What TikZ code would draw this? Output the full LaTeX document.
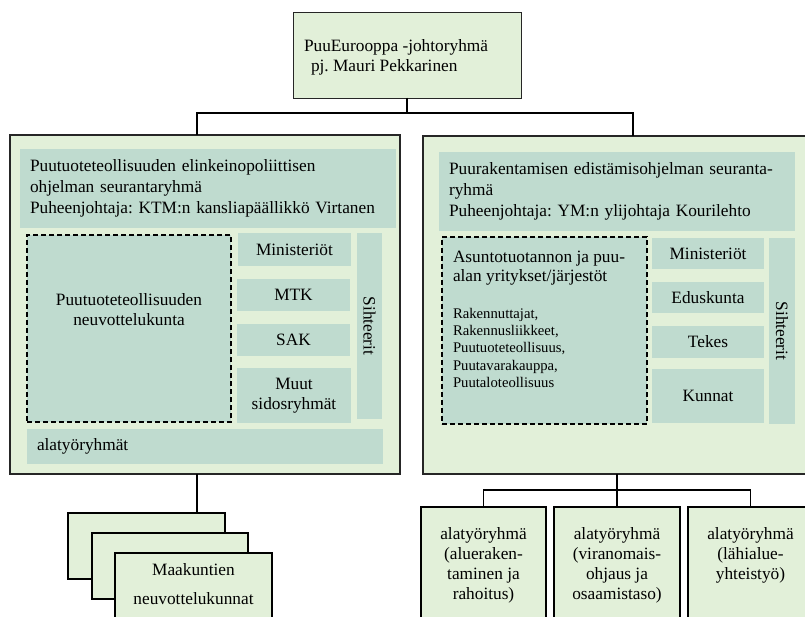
\documentclass[tikz,border=0pt]{standalone}
\usepackage{fontspec}
\setmainfont{Liberation Serif}
\frenchspacing
\definecolor{outerg}{RGB}{226,240,217}
\definecolor{innerg}{RGB}{191,219,207}
\begin{document}
\begin{tikzpicture}[x=1pt,y=-1pt,
  bigbox/.style={draw=black!85, line width=1.3pt, fill=outerg, anchor=north west, inner sep=0pt, outer sep=0pt},
  topbox/.style={draw=black!85, line width=0.9pt, fill=outerg, anchor=north west, inner sep=0pt, outer sep=0pt},
  thickbox/.style={draw=black, line width=2.3pt, fill=outerg, anchor=north west, inner sep=0pt, outer sep=0pt},
  ibox/.style={fill=innerg, anchor=north west, inner sep=0pt, outer sep=0pt, align=center, font=\fontsize{17.3}{20}\selectfont},
  hdr/.style={ibox, align=left, inner xsep=10pt, font=\fontsize{17.3}{21}\selectfont},
  dbox/.style={fill=innerg, draw=black, line width=1.2pt, dash pattern=on 5pt off 3pt, anchor=north west, inner sep=0pt, outer sep=0pt},
  txt/.style={inner sep=0pt, outer sep=0pt, font=\fontsize{17.3}{20}\selectfont},
  conn/.style={draw=black, line width=1.2pt}
]
\useasboundingbox (0,0) rectangle (805,617);
\clip (0,0) rectangle (805,617);

% top box
\node[topbox, minimum width=228pt, minimum height=86pt] (top) at (293,12) {};
\node[txt, anchor=north west, align=left] (toptext) at (304,40) {PuuEurooppa -johtoryhmä\\\hspace*{7pt}pj. Mauri Pekkarinen};

% big boxes
\node[bigbox, minimum width=390pt, minimum height=339pt] (bigL) at (10,135) {};
\node[bigbox, minimum width=392pt, minimum height=338pt] (bigR) at (423,136) {};

% left inner
\node[hdr, minimum width=376pt, minimum height=79pt, text width=356pt] (hdrL) at (20,149)
  {Puutuoteteollisuuden elinkeinopoliittisen\\ohjelman seurantaryhmä\\Puheenjohtaja: KTM:n kansliapäällikkö Virtanen};
\node[dbox, minimum width=204pt, minimum height=187pt] (dashL) at (27,235) {};
\node[txt, align=center] (dashLt) at (129,310) {Puutuoteteollisuuden\\neuvottelukunta};
\node[ibox, minimum width=113pt, minimum height=33pt] (minL) at (238,233) {Ministeriöt};
\node[ibox, minimum width=113pt, minimum height=32pt] (mtk) at (237,279) {MTK};
\node[ibox, minimum width=113pt, minimum height=32pt] (sak) at (237,324) {SAK};
\node[ibox, minimum width=114pt, minimum height=55pt] (muut) at (237,368) {Muut\\sidosryhmät};
\node[ibox, minimum width=25pt, minimum height=186pt] (sihL) at (357,233) {\rotatebox{-90}{Sihteerit}};
\node[ibox, align=left, inner xsep=10pt, text width=336pt, minimum width=356pt, minimum height=35pt] (ala) at (27,429) {alatyöryhmät};

% right inner
\node[hdr, minimum width=356pt, minimum height=79pt, text width=336pt] (hdrR) at (439,152)
  {Puurakentamisen edistämisohjelman seuranta-\\ryhmä\\Puheenjohtaja: YM:n ylijohtaja Kourilehto};
\node[dbox, minimum width=205pt, minimum height=187pt] (dashR) at (442,237) {};
\node[txt, anchor=north west, align=left, font=\fontsize{17.3}{19.5}\selectfont] (dashRt1) at (453,251) {Asuntotuotannon ja puu-\\alan yritykset/järjestöt};
\node[txt, anchor=north west, align=left, font=\fontsize{14.7}{17.3}\selectfont] (dashRt2) at (453,308) {Rakennuttajat,\\Rakennusliikkeet,\\Puutuoteteollisuus,\\Puutavarakauppa,\\Puutaloteollisuus};
\node[ibox, minimum width=112pt, minimum height=31pt] (minR) at (652,238) {Ministeriöt};
\node[ibox, minimum width=112pt, minimum height=31pt] (edu) at (652,282) {Eduskunta};
\node[ibox, minimum width=112pt, minimum height=32pt] (tekes) at (652,326) {Tekes};
\node[ibox, minimum width=112pt, minimum height=54pt] (kunnat) at (652,369) {Kunnat};
\node[ibox, minimum width=26pt, minimum height=186pt] (sihR) at (769,238) {\rotatebox{-90}{Sihteerit}};

% sub boxes right
\node[thickbox, minimum width=125pt, minimum height=112pt] (sub1) at (421,507) {};
\node[thickbox, minimum width=126pt, minimum height=112pt] (sub2) at (554,507) {};
\node[thickbox, minimum width=125pt, minimum height=112pt] (sub3) at (688,507) {};
\node[txt, anchor=north, align=center] (sub1t) at ([yshift=-20pt]sub1.north) {alatyöryhmä\\(alueraken-\\taminen ja\\rahoitus)};
\node[txt, anchor=north, align=center] (sub2t) at ([yshift=-20pt]sub2.north) {alatyöryhmä\\(viranomais-\\ohjaus ja\\osaamistaso)};
\node[txt, anchor=north, align=center] (sub3t) at ([yshift=-20pt]sub3.north) {alatyöryhmä\\(lähialue-\\yhteistyö)};

% stacked boxes left
\node[thickbox, minimum width=157pt, minimum height=66pt] (stA) at (68,513) {};
\node[thickbox, minimum width=156pt, minimum height=66pt] (stB) at (92,533) {};
\node[thickbox, minimum width=157pt, minimum height=66pt] (stC) at (115,553) {};
\node[txt, align=center] (stCt) at (193.5,584) {Maakuntien\\[9pt]neuvottelukunnat};

% connectors
\draw[conn] (top.south) -- ++(0,15) -| ([xshift=187pt]bigL.north west);
\draw[conn] (top.south) -- ++(0,15) -| ([xshift=210pt]bigR.north west);
\draw[conn] ([xshift=187pt]bigL.south west) -- ([xshift=187pt]bigL.south west |- stA.north);
\draw[conn] (bigR.south -| sub2.north) -- (sub2.north);
\draw[conn] (sub1.north) -- ++(0,-17) -| (sub3.north);
\end{tikzpicture}
\end{document}
